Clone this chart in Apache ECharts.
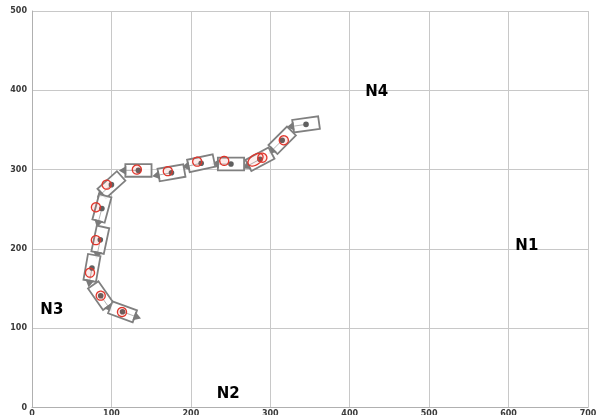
<!DOCTYPE html>
<html>
<head>
<meta charset="utf-8">
<script src="https://cdn.jsdelivr.net/npm/echarts@6/dist/echarts.min.js"></script>
<style>
  html, body { margin: 0; padding: 0; background: #ffffff; overflow: hidden; }
  #chart { width: 603px; height: 415px; }
</style>
</head>
<body>
<div id="chart"></div>
<script>
// Vehicle track: pose of each box (x, y, heading in degrees), in drive order
const poseX = [345, 315, 287, 250.5, 213, 175.6, 134, 100, 88, 86, 75.5, 86.5, 114];
const poseY = [357, 337, 313, 307, 308, 296, 299, 281, 251, 211.5, 176, 141, 120.7];
const poseHeading = [188, 225, 208, 180, 192, 190, 180, 222, 255, 258, 260, 305, 340];

// Position fixes (circles)
const fixX = [317, 290, 242, 208, 171, 132, 94, 80.5, 80.4, 73, 86.5, 113.3];
const fixY = [337, 315, 311, 310, 298, 300, 281, 252.5, 211, 170, 141, 120.4];

// Uncertainty ellipse: centre, semi-axes, tilt (degrees)
const ellX = [281.4];
const ellY = [312.5];
const ellA = [10.7];
const ellB = [6.3];
const ellTilt = [35];

// Region labels
const regionNames = ['N1', 'N2', 'N3', 'N4'];
const regionX = [623, 247, 25, 434];
const regionY = [203.5, 17, 123, 397.5];

const xTicks = [0, 100, 200, 300, 400, 500, 600, 700];
const yTicks = [0, 100, 200, 300, 400, 500];

const poseData = poseX.map((x, i) => [x, poseY[i], poseHeading[i]]);
const fixData = fixX.map((x, i) => [x, fixY[i]]);
const ellData = ellX.map((x, i) => [x, ellY[i], ellA[i], ellB[i], ellTilt[i]]);
const regionData = regionNames.map((n, i) => [regionX[i], regionY[i], n]);

const BOX_LEN = 33;   // data units
const BOX_WID = 16;
const FIX_R = 5.7;

function renderVehicle(params, api) {
  const c = api.coord([api.value(0), api.value(1)]);
  const h = api.value(2) * Math.PI / 180;
  const sz = api.size([BOX_LEN, BOX_WID]);
  const hl = sz[0] / 2, hw = sz[1] / 2;
  const d = [Math.cos(h), -Math.sin(h)];
  const p = [Math.sin(h), Math.cos(h)];
  const pt = (a, b) => [c[0] + d[0] * a + p[0] * b, c[1] + d[1] * a + p[1] * b];
  return {
    type: 'group',
    children: [
      {
        type: 'polygon',
        shape: { points: [pt(-hl, -hw), pt(hl, -hw), pt(hl, hw), pt(-hl, hw)] },
        style: { fill: 'rgba(255,255,255,0.85)', stroke: '#808080', lineWidth: 1.8 }
      },
      {
        type: 'line',
        shape: { x1: c[0], y1: c[1], x2: pt(hl, 0)[0], y2: pt(hl, 0)[1] },
        style: { stroke: '#a0a0a0', lineWidth: 0.8 }
      },
      {
        type: 'polygon',
        shape: { points: [pt(hl - 1, -4.5), pt(hl + 6.5, 0), pt(hl - 1, 4.5)] },
        style: { fill: '#7a7a7a', stroke: null }
      },
      {
        type: 'circle',
        shape: { cx: c[0], cy: c[1], r: 2.8 },
        style: { fill: '#606060' }
      }
    ]
  };
}

function ellipsePoints(c, rx, ry, tilt) {
  const pts = [];
  const ct = Math.cos(tilt), st = Math.sin(tilt);
  for (let k = 0; k < 48; k++) {
    const t = k / 48 * Math.PI * 2;
    const ex = rx * Math.cos(t), ey = ry * Math.sin(t);
    pts.push([c[0] + ex * ct + ey * st, c[1] - ex * st + ey * ct]);
  }
  return pts;
}

function renderFix(params, api) {
  const c = api.coord([api.value(0), api.value(1)]);
  const r = api.size([FIX_R, FIX_R]);
  return {
    type: 'polygon',
    shape: { points: ellipsePoints(c, r[0], r[1], 0) },
    style: { fill: 'rgba(230,60,50,0.1)', stroke: '#e0352b', lineWidth: 1.3 }
  };
}

function renderEllipse(params, api) {
  const c = api.coord([api.value(0), api.value(1)]);
  const r = api.size([api.value(2), api.value(3)]);
  return {
    type: 'polygon',
    shape: { points: ellipsePoints(c, r[0], r[1], api.value(4) * Math.PI / 180) },
    style: { fill: 'rgba(230,60,50,0.08)', stroke: '#e0352b', lineWidth: 1.3 }
  };
}

function renderRegion(params, api) {
  const c = api.coord([api.value(0), api.value(1)]);
  return {
    type: 'text',
    x: c[0],
    y: c[1],
    style: {
      text: regionNames[params.dataIndex],
      fill: '#000000',
      font: 'bold 15px "DejaVu Sans"',
      align: 'center',
      verticalAlign: 'middle'
    }
  };
}

const chart = echarts.init(document.getElementById('chart'), null, { renderer: 'canvas', width: 603, height: 415 });

const axisLabelStyle = {
  fontSize: 8,
  fontWeight: 'bold',
  color: '#3a3a3a',
  fontFamily: 'DejaVu Sans'
};

chart.setOption({
  animation: false,
  backgroundColor: '#ffffff',
  grid: { left: 32, right: 15, top: 11, bottom: 7.5, containLabel: false, outerBoundsMode: 'none' },
  xAxis: {
    type: 'value',
    min: xTicks[0],
    max: xTicks[xTicks.length - 1],
    interval: xTicks[1] - xTicks[0],
    axisLine: { show: true, lineStyle: { color: '#b0b0b0', width: 1 } },
    axisTick: { show: false },
    axisLabel: Object.assign({ margin: 2 }, axisLabelStyle),
    splitLine: { show: true, lineStyle: { color: '#c8c8c8', width: 1 } }
  },
  yAxis: {
    type: 'value',
    min: yTicks[0],
    max: yTicks[yTicks.length - 1],
    interval: yTicks[1] - yTicks[0],
    axisLine: { show: true, lineStyle: { color: '#b0b0b0', width: 1 } },
    axisTick: { show: false },
    axisLabel: Object.assign({ margin: 5 }, axisLabelStyle),
    splitLine: { show: true, lineStyle: { color: '#c8c8c8', width: 1 } }
  },
  series: [
    {
      type: 'custom',
      name: 'vehicle',
      renderItem: renderVehicle,
      data: poseData,
      z: 3,
      silent: true
    },
    {
      type: 'custom',
      name: 'fix',
      renderItem: renderFix,
      data: fixData,
      z: 4,
      silent: true
    },
    {
      type: 'custom',
      name: 'uncertainty',
      renderItem: renderEllipse,
      data: ellData,
      z: 4,
      silent: true
    },
    {
      type: 'custom',
      name: 'regions',
      renderItem: renderRegion,
      data: regionData,
      z: 5,
      silent: true
    }
  ]
});
</script>
</body>
</html>
